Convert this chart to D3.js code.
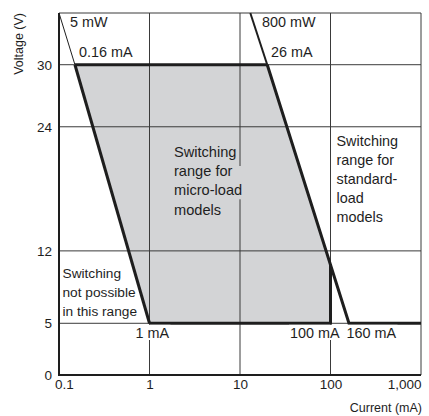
<!DOCTYPE html>
<html>
<head>
<meta charset="utf-8">
<script src="https://cdn.jsdelivr.net/npm/d3@7"></script>
<style>
  html, body { margin: 0; padding: 0; background: #fff; }
  svg { display: block; font-family: "Liberation Sans", Arial, Helvetica, sans-serif; }
</style>
</head>
<body>
<svg id="chart" width="429" height="416"></svg>
<script>
// ---- data ----
const currentTicks = [0.1, 1, 10, 100, 1000];
const currentTickLabels = ["0.1", "1", "10", "100", "1,000"];
const voltageTicks = [0, 5, 12, 24, 30];
const gridCurrents = [1, 10, 100];
const gridVoltages = [5, 12, 24, 30];

// micro-load switching range (shaded polygon)
const microRegionCurrent = [0.15, 20, 100, 100, 1];
const microRegionVoltage = [30, 30, 10.7, 5, 5];

// 5 mW boundary (thin part above 30 V, thick below)
const line5mWCurrent = [0.1, 0.15, 1];
const line5mWVoltage = [35, 30, 5];

// 800 mW boundary of standard-load range
const line800mWCurrent = [13, 20, 160, 1000];
const line800mWVoltage = [35, 30, 5, 5];

// ---- scales ----
const svg = d3.select("#chart");
const x = d3.scaleLog().domain([0.1, 1000]).range([59, 421]);
const y = d3.scaleLinear().domain([0, 35]).range([375, 13]);

const ink = "#1e1e1e";
const gridCol = "#3a3a3a";
const fillCol = "#d3d4d6";

const pts = (cs, vs) => cs.map((c, i) => [x(c), y(vs[i])]);
const line = d3.line();

// shaded region
svg.append("path")
  .attr("d", line(pts(microRegionCurrent, microRegionVoltage)) + "Z")
  .attr("fill", fillCol);

// grid
svg.append("g").selectAll("line").data(gridCurrents).join("line")
  .attr("x1", d => x(d)).attr("x2", d => x(d))
  .attr("y1", y(0)).attr("y2", y(35))
  .attr("stroke", gridCol).attr("stroke-width", 1);
svg.append("g").selectAll("line").data(gridVoltages).join("line")
  .attr("x1", x(0.1)).attr("x2", x(1000))
  .attr("y1", d => y(d)).attr("y2", d => y(d))
  .attr("stroke", gridCol).attr("stroke-width", 1);

// frame: top/right thin, left/bottom heavier
svg.append("line").attr("x1", x(0.1)).attr("x2", x(1000)).attr("y1", y(35)).attr("y2", y(35))
  .attr("stroke", gridCol).attr("stroke-width", 1);
svg.append("line").attr("x1", x(1000)).attr("x2", x(1000)).attr("y1", y(35)).attr("y2", y(0))
  .attr("stroke", gridCol).attr("stroke-width", 1);
svg.append("line").attr("x1", x(0.1)).attr("x2", x(0.1)).attr("y1", y(35)).attr("y2", y(0) + 1)
  .attr("stroke", ink).attr("stroke-width", 2);
svg.append("line").attr("x1", x(0.1) - 1).attr("x2", x(1000)).attr("y1", y(0)).attr("y2", y(0))
  .attr("stroke", ink).attr("stroke-width", 2);

// 5 mW line
const p5 = pts(line5mWCurrent, line5mWVoltage);
svg.append("path").attr("d", line(p5.slice(0, 2))).attr("fill", "none")
  .attr("stroke", ink).attr("stroke-width", 1);
svg.append("path").attr("d", line(p5.slice(1))).attr("fill", "none")
  .attr("stroke", ink).attr("stroke-width", 3);

// 800 mW line
const p800 = pts(line800mWCurrent, line800mWVoltage);
svg.append("path").attr("d", line(p800.slice(0, 2))).attr("fill", "none")
  .attr("stroke", ink).attr("stroke-width", 2);
svg.append("path").attr("d", line(p800.slice(1))).attr("fill", "none")
  .attr("stroke", ink).attr("stroke-width", 3).attr("stroke-linejoin", "miter");

// micro-load outline (top at 30 V, bottom at 5 V, vertical at 100 mA)
const mr = pts(microRegionCurrent, microRegionVoltage);
svg.append("path").attr("d", line([mr[0], mr[1]])).attr("fill", "none")
  .attr("stroke", ink).attr("stroke-width", 3);
svg.append("path").attr("d", line([mr[2], mr[3], mr[4]])).attr("fill", "none")
  .attr("stroke", ink).attr("stroke-width", 3).attr("stroke-linejoin", "miter");

// ---- axes ----
const xAxis = svg.append("g").attr("transform", `translate(0,${y(0)})`)
  .call(d3.axisBottom(x).tickValues(currentTicks)
    .tickFormat((d, i) => currentTickLabels[i]).tickSize(0).tickPadding(4));
xAxis.select(".domain").remove();
xAxis.selectAll("text").attr("font-size", 13.5).attr("fill", ink)
  .attr("font-family", "Liberation Sans, Arial, sans-serif")
  .attr("text-anchor", (d, i) => i === 0 ? "start" : (i === currentTicks.length - 1 ? "end" : "middle"))
  .attr("dx", (d, i) => i === 0 ? -4.5 : 0);

const yAxis = svg.append("g").attr("transform", `translate(${x(0.1)},0)`)
  .call(d3.axisLeft(y).tickValues(voltageTicks).tickSize(0).tickPadding(7));
yAxis.select(".domain").remove();
yAxis.selectAll("text").attr("font-size", 13.5).attr("fill", ink)
  .attr("font-family", "Liberation Sans, Arial, sans-serif");

svg.append("text").attr("x", 422).attr("y", 412).attr("text-anchor", "end")
  .attr("font-size", 12.5).attr("fill", ink).text("Current (mA)");
svg.append("text").attr("transform", "translate(23,13) rotate(-90)").attr("text-anchor", "end")
  .attr("font-size", 12.5).attr("fill", ink).text("Voltage (V)");

// ---- annotations ----
const fs = 14.4;
function label(tx, ty, txt, size) {
  return svg.append("text").attr("x", tx).attr("y", ty).attr("font-size", size || fs)
    .attr("fill", ink).text(txt);
}
// labels with white backing below the 5 V line (hide grid lines under them)
function backedLabel(tx, ty, txt) {
  const bg = svg.append("rect").attr("fill", "#fff");
  const t = label(tx, ty, txt);
  const b = t.node().getBBox();
  bg.attr("x", b.x - 1).attr("y", y(5) + 1.5)
    .attr("width", b.width + 2).attr("height", (b.y + b.height) - (y(5) + 1.5) - 1);
  return t;
}
label(70, 26.7, "5 mW");
label(79, 57.3, "0.16 mA");
label(262, 26.7, "800 mW");
label(271, 57.3, "26 mA");
backedLabel(135.5, 338, "1 mA");
backedLabel(290, 338, "100 mA");
backedLabel(346.5, 338, "160 mA");

function block(tx, ty, lines, size, lh) {
  const t = svg.append("text").attr("font-size", size).attr("fill", ink);
  lines.forEach((l, i) => t.append("tspan").attr("x", tx).attr("y", ty + i * lh).text(l));
  return t;
}
// background patch behind centre text (hides the 10 mA grid line)
const bgRect = svg.append("rect").attr("fill", fillCol);
const centre = block(174, 156.7, ["Switching", "range for", "micro-load", "models"], 14.6, 19.3);
const tsp = centre.selectAll("tspan").nodes();
const b1 = tsp[1].getBBox(), b2 = tsp[2].getBBox();
bgRect.attr("x", Math.min(b1.x, b2.x) - 1).attr("y", b1.y + 3)
  .attr("width", Math.max(b1.x + b1.width, b2.x + b2.width) - Math.min(b1.x, b2.x) + 3)
  .attr("height", b2.y + b2.height - b1.y - 2);

block(336.5, 145.7, ["Switching", "range for", "standard-", "load", "models"], 14.4, 19);
block(62.5, 278, ["Switching", "not possible", "in this range"], 13.7, 19);
</script>
</body>
</html>
